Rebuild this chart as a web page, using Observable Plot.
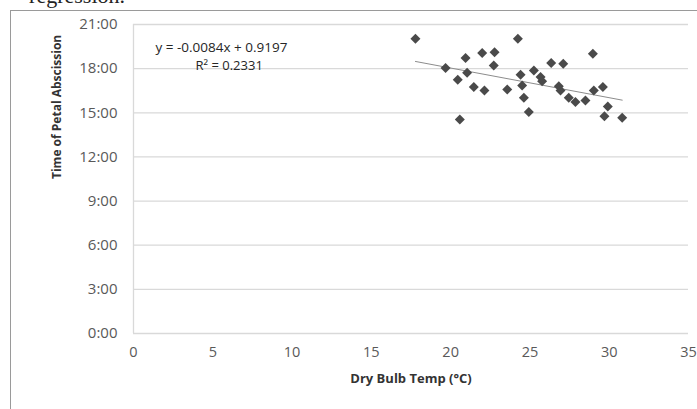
<!DOCTYPE html>
<html><head><meta charset="utf-8">
<script src="https://cdn.jsdelivr.net/npm/d3@7"></script>
<script src="https://cdn.jsdelivr.net/npm/@observablehq/plot@0.6"></script>
<style>
body{margin:0;background:#fff;}
#wrap{position:relative;width:697px;height:409px;overflow:hidden;}
#cap{position:absolute;right:572px;top:-15px;font-family:"Liberation Serif",serif;font-size:22px;line-height:22px;color:#222;white-space:nowrap;}
#frame{position:absolute;left:10px;top:10px;width:700px;height:410px;border-left:1.5px solid #9a9a9a;border-top:1.5px solid #9a9a9a;}
#chart{position:absolute;left:0;top:0;}
</style></head>
<body><div id="wrap"><div id="chart"></div><div id="cap">regression.</div><div id="frame"></div></div>
<script>
// Dry bulb temperature (°C)
const temps = [17.78, 19.68, 20.94, 21.99, 22.77, 22.72, 21.04, 20.45, 21.46, 22.13, 20.58,
  24.24, 28.97, 26.34, 27.10, 24.41, 25.25, 25.67, 25.77, 24.51, 23.57, 26.82, 26.93,
  24.62, 27.45, 27.87, 28.50, 29.03, 29.60, 24.93, 29.91, 29.70, 30.82];
// Time of petal abscission (decimal hours)
const hours = [20.03, 18.04, 18.72, 19.06, 19.12, 18.22, 17.72, 17.25, 16.75, 16.52, 14.55,
  20.03, 19.01, 18.38, 18.33, 17.59, 17.88, 17.43, 17.15, 16.86, 16.59, 16.81, 16.52,
  16.02, 16.02, 15.73, 15.84, 16.52, 16.75, 15.05, 15.43, 14.77, 14.66];
const xTicks = [0, 5, 10, 15, 20, 25, 30, 35];
const yTicks = [0, 3, 6, 9, 12, 15, 18, 21];
const yTickLabels = ["0:00", "3:00", "6:00", "9:00", "12:00", "15:00", "18:00", "21:00"];
const trendSlope = -0.0084;      // days per °C
const trendIntercept = 0.9197;   // days
const eqLine1 = ["y = -0.0084x + 0.9197"];
const eqLine2 = ["R² = 0.2331"];
const xTitle = ["Dry Bulb Temp (°C)"];
const yTitle = ["Time of Petal Abscission"];

const points = temps.map((t, i) => ({t, h: hours[i]}));
const tExt = d3.extent(temps);
const trend = tExt.map(t => ({t, h: 24 * (trendSlope * t + trendIntercept)}));

const chart = Plot.plot({
  width: 697, height: 409,
  marginLeft: 133, marginRight: 9, marginTop: 24, marginBottom: 76,
  x: {domain: [0, 35], label: null},
  y: {domain: [0, 21], label: null},
  style: {fontFamily: "'Open Sans', sans-serif", fontSize: "14px", color: "#595959", background: "transparent", overflow: "visible"},
  marks: [
    Plot.ruleY(yTicks, {stroke: "#d9d9d9", strokeWidth: 1.3}),
    Plot.ruleX([0], {stroke: "#d9d9d9", strokeWidth: 1.3}),
    Plot.axisX({ticks: xTicks, tickSize: 0, tickPadding: 13, fontSize: 14.5, fill: "#595959", label: null}),
    Plot.axisY({ticks: yTicks, tickSize: 0, tickPadding: 16, fontSize: 15, fill: "#595959", label: null,
      tickFormat: v => yTickLabels[yTicks.indexOf(v)]}),
    Plot.text(xTitle, {frameAnchor: "bottom", dy: 49, fontWeight: "bold", fontSize: 13, fill: "#333"}),
    Plot.text(yTitle, {frameAnchor: "left", rotate: -90, dx: -76, fontWeight: "bold", fontSize: 12, fill: "#333"}),
    Plot.line(trend, {x: "t", y: "h", stroke: "#8c8c8c", strokeWidth: 1}),
    Plot.dot(points, {x: "t", y: "h", symbol: "diamond2", r: 4.5, fill: "#4a4a4a", stroke: "none"}),
    Plot.text(eqLine1, {frameAnchor: "top-left", textAnchor: "start", dx: 22, dy: 18, fontSize: 13.5, fill: "#262626"}),
    Plot.text(eqLine2, {frameAnchor: "top-left", textAnchor: "start", dx: 62, dy: 36, fontSize: 13, fill: "#262626"})
  ]
});
document.getElementById("chart").appendChild(chart);
</script>
</body></html>
